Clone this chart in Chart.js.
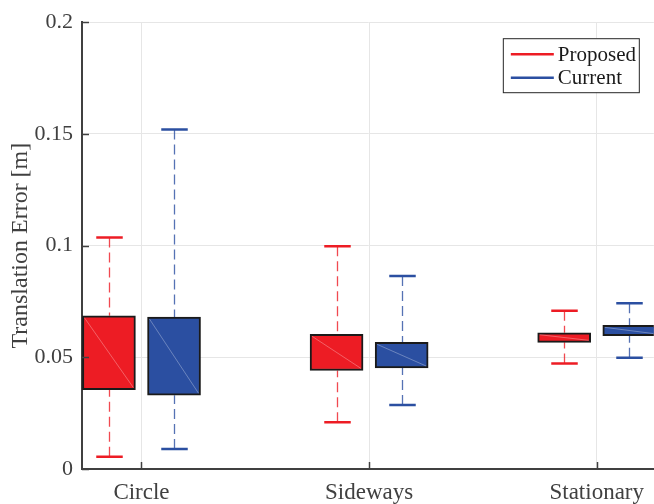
<!DOCTYPE html>
<html>
<head>
<meta charset="utf-8">
<script src="https://cdn.jsdelivr.net/npm/chart.js@4.4.1/dist/chart.umd.min.js"></script>
<style>
  html, body { margin: 0; padding: 0; background: #fff; }
  #wrap { position: relative; width: 654px; height: 504px; }
</style>
</head>
<body>
<div id="wrap"><canvas id="chart"></canvas></div>
<script>
const categories = ["Circle", "Sideways", "Stationary"];
const seriesNames = ["Proposed", "Current"];

// box edges (25th / 75th percentile) and whisker ends
const proposedQ1 = [0.0355, 0.0441, 0.0567];
const proposedQ3 = [0.0686, 0.0603, 0.0610];
const proposedMin = [0.0055, 0.0209, 0.0472];
const proposedMax = [0.1036, 0.0997, 0.0708];

const currentQ1 = [0.0330, 0.0452, 0.0597];
const currentQ3 = [0.0680, 0.0567, 0.0643];
const currentMin = [0.0089, 0.0286, 0.0498];
const currentMax = [0.1520, 0.0864, 0.0742];

const yTicks = [0, 0.05, 0.1, 0.15, 0.2];

const RED = "#ED1C24";
const BLUE = "#2B4FA1";
const FONT = "'Liberation Serif', 'Times New Roman', serif";
const TEXT = "#404040";
const GROUP_OFFSET = 0.143; // half distance between the two boxes of a group, x units

const el = (id) => document.getElementById(id);

function boxData(q1, q3, shift) {
  return categories.map((_, i) => ({ x: i + 1 + shift, y: [q1[i], q3[i]] }));
}

const whiskers = [
  { min: proposedMin, max: proposedMax, q1: proposedQ1, q3: proposedQ3, color: RED },
  { min: currentMin, max: currentMax, q1: currentQ1, q3: currentQ3, color: BLUE },
];

const boxPlugin = {
  id: "boxExtras",
  beforeDatasetsDraw(chart) {
    const { ctx, chartArea: a } = chart;
    const ys = chart.scales.y;
    ctx.save();
    ctx.beginPath();
    ctx.rect(a.left, a.top - 2, a.right - a.left, a.bottom - a.top + 4);
    ctx.clip();
    chart.data.datasets.forEach((ds, di) => {
      const w = whiskers[di];
      const meta = chart.getDatasetMeta(di);
      meta.data.forEach((bar, i) => {
        const x = Math.round(bar.x) + 0.5;
        const capHalf = bar.width / 4;
        const segs = [[w.q3[i], w.max[i]], [w.q1[i], w.min[i]]];
        for (const [from, to] of segs) {
          ctx.setLineDash([10, 5]);
          ctx.lineWidth = 1.3;
          ctx.strokeStyle = w.color;
          ctx.globalAlpha = 0.8;
          ctx.beginPath();
          ctx.moveTo(x, ys.getPixelForValue(to));
          ctx.lineTo(x, ys.getPixelForValue(from));
          ctx.stroke();
          ctx.globalAlpha = 1;
          ctx.setLineDash([]);
          ctx.lineWidth = 2.5;
          const cy = ys.getPixelForValue(to);
          ctx.beginPath();
          ctx.moveTo(x - capHalf, cy);
          ctx.lineTo(x + capHalf, cy);
          ctx.stroke();
        }
      });
    });
    ctx.restore();
  },
  afterDatasetsDraw(chart) {
    const { ctx, chartArea: a } = chart;
    ctx.save();
    ctx.beginPath();
    ctx.rect(a.left, a.top, a.right - a.left, a.bottom - a.top);
    ctx.clip();
    // faint diagonal seen inside each box
    chart.data.datasets.forEach((ds, di) => {
      chart.getDatasetMeta(di).data.forEach((bar) => {
        const top = Math.min(bar.y, bar.base) + 2;
        const bot = Math.max(bar.y, bar.base) - 2;
        ctx.strokeStyle = "rgba(255,255,255,0.3)";
        ctx.lineWidth = 1;
        ctx.beginPath();
        ctx.moveTo(bar.x - bar.width / 2 + 2, top);
        ctx.lineTo(bar.x + bar.width / 2 - 2, bot);
        ctx.stroke();
      });
    });
    ctx.restore();

    // inward tick marks
    const xs = chart.scales.x, ys = chart.scales.y;
    ctx.save();
    ctx.strokeStyle = TEXT;
    ctx.lineWidth = 1.5;
    for (const v of yTicks) {
      const py = Math.round(ys.getPixelForValue(v)) + 0.5;
      ctx.beginPath();
      ctx.moveTo(a.left, py);
      ctx.lineTo(a.left + 7, py);
      ctx.stroke();
    }
    categories.forEach((_, i) => {
      const px = Math.round(xs.getPixelForValue(i + 1)) + 0.5;
      ctx.beginPath();
      ctx.moveTo(px, a.bottom);
      ctx.lineTo(px, a.bottom - 7);
      ctx.stroke();
    });
    ctx.restore();

    // legend box
    const lx = a.right - 151, ly = a.top + 16, lw = 136, lh = 54;
    ctx.save();
    ctx.fillStyle = "#fff";
    ctx.fillRect(lx, ly, lw, lh);
    ctx.strokeStyle = "#262626";
    ctx.lineWidth = 1;
    ctx.strokeRect(lx + 0.5, ly + 0.5, lw, lh);
    ctx.font = "21px " + FONT;
    ctx.textBaseline = "middle";
    chart.data.datasets.forEach((ds, di) => {
      const cy = ly + 16 + di * 23.5;
      ctx.strokeStyle = ds.backgroundColor;
      ctx.lineWidth = 2.5;
      ctx.beginPath();
      ctx.moveTo(lx + 8, cy);
      ctx.lineTo(lx + 51, cy);
      ctx.stroke();
      ctx.fillStyle = "#1a1a1a";
      ctx.fillText(ds.label, lx + 55, cy + 1);
    });
    ctx.restore();
  },
};

const makeSet = (label, q1, q3, shift, color) => ({
  label,
  data: boxData(q1, q3, shift),
  backgroundColor: color,
  borderColor: "#1a1a1a",
  borderWidth: 2,
  borderSkipped: false,
  barThickness: 53,
  grouped: false,
});

new Chart(el("chart"), {
  type: "bar",
  data: {
    datasets: [
      makeSet(seriesNames[0], proposedQ1, proposedQ3, -GROUP_OFFSET, RED),
      makeSet(seriesNames[1], currentQ1, currentQ3, GROUP_OFFSET, BLUE),
    ],
  },
  options: {
    responsive: true,
    maintainAspectRatio: false,
    animation: false,
    layout: { padding: { top: 19, left: 0, right: 0, bottom: 0 } },
    plugins: { legend: { display: false }, tooltip: { enabled: false } },
    scales: {
      x: {
        type: "linear",
        min: 0.7387,
        max: 3.2508,
        offset: false,
        afterBuildTicks: (s) => { s.ticks = categories.map((_, i) => ({ value: i + 1 })); },
        afterFit: (s) => { s.height = 35; },
        grid: { color: "#e6e6e6", lineWidth: 1, drawTicks: false, offset: false },
        border: { color: TEXT, width: 2 },
        ticks: {
          padding: 10,
          color: TEXT,
          font: { family: FONT, size: 23 },
          maxRotation: 0,
          callback: (v) => categories[v - 1] ?? "",
        },
      },
      y: {
        min: 0,
        max: 0.2,
        afterBuildTicks: (s) => { s.ticks = yTicks.map((v) => ({ value: v })); },
        afterFit: (s) => { s.width = 82; },
        grid: { color: "#e6e6e6", lineWidth: 1, drawTicks: false },
        border: { color: TEXT, width: 2 },
        ticks: {
          padding: 9,
          color: TEXT,
          font: { family: FONT, size: 22 },
          callback: (v) => String(v),
        },
        title: {
          display: true,
          text: "Translation Error [m]",
          color: TEXT,
          font: { family: FONT, size: 24 },
          padding: { top: 6, bottom: 0 },
        },
      },
    },
  },
  plugins: [boxPlugin],
});
</script>
</body>
</html>
